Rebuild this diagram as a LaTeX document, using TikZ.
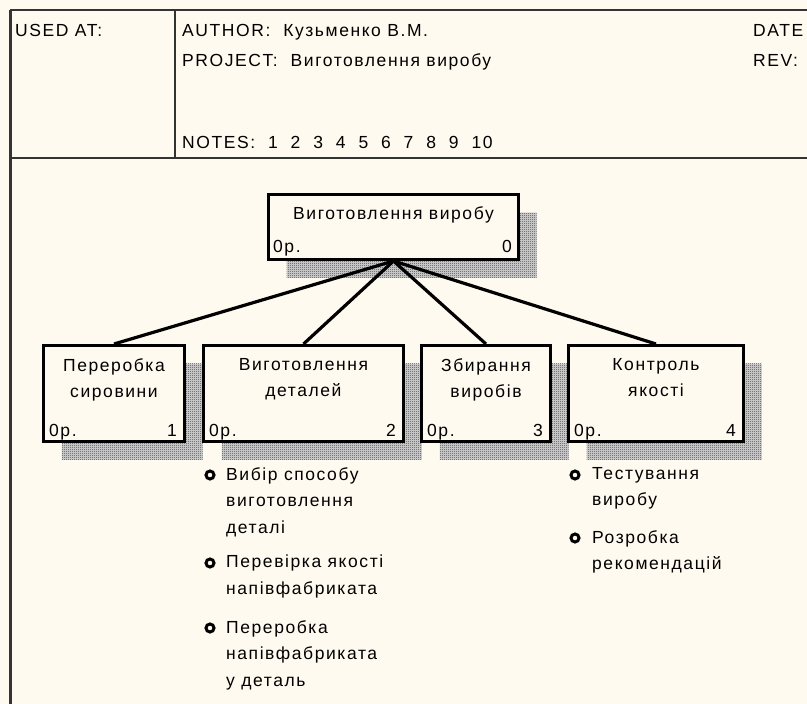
\documentclass[tikz,border=0pt]{standalone}
\usepackage{fontspec}
\setmainfont{Liberation Sans}
\usetikzlibrary{patterns,shadows,positioning}
\definecolor{paper}{RGB}{255,250,239}
\pgfdeclarepatternformonly{checker}{\pgfqpoint{0pt}{0pt}}{\pgfqpoint{2pt}{2pt}}{\pgfqpoint{2pt}{2pt}}{%
  \pgfpathrectangle{\pgfqpoint{0pt}{0pt}}{\pgfqpoint{1pt}{1pt}}%
  \pgfpathrectangle{\pgfqpoint{1pt}{1pt}}{\pgfqpoint{1pt}{1pt}}%
  \pgfusepath{fill}}
\begin{document}
\begin{tikzpicture}[x=1pt,y=-1pt,
  txt/.style={font=\fontsize{17.5}{26.5}\selectfont\addfontfeatures{LetterSpace=9}, inner sep=0pt},
  actbox/.style={draw=black, line width=3pt, fill=paper, anchor=north west, inner sep=0pt,
    general shadow={shadow xshift=18pt, shadow yshift=-18pt, fill=black!15,
      postaction={pattern=checker, pattern color=black!75}}},
  link/.style={line width=3.2pt},
  ring/.style={circle, draw=black, line width=3pt, minimum size=8pt, inner sep=0pt},
  frameline/.style={draw=black!80, line width=2pt}
]

\fill[paper] (0,0) rectangle (807,704);
\useasboundingbox (0,0) rectangle (807,704);
\clip (0,0) rectangle (807,704);

% header
\draw[frameline] (10,10) -- (820,10);
\draw[frameline, line width=3pt] (10,10) -- (10,720);
\draw[frameline] (10,158) -- (820,158);
\draw[frameline] (175,10) -- (175,158);

\node[txt, anchor=base west] (usedat) at (15,36) {USED AT:};
\node[txt, anchor=base west] (author) at (182,36) {AUTHOR:\ \ Кузьменко В.М.};
\node[txt, anchor=base west] (project) at (182,66) {PROJECT:\ \ Виготовлення виробу};
\node[txt, anchor=base west] (notes) at (182,148) {NOTES:\ \ 1\ \ 2\ \ 3\ \ 4\ \ 5\ \ 6\ \ 7\ \ 8\ \ 9\ \ 10};
\node[txt, anchor=base west] (date) at (753,36) {DATE};
\node[txt, anchor=base west] (rev) at (753,66) {REV:};

% boxes
\node[actbox, minimum width=250pt, minimum height=65pt] (a0) at (267,193) {};
\node[actbox, minimum width=141pt, minimum height=96pt] (a1) at (42,344) {};
\node[actbox, minimum width=200pt, minimum height=96pt] (a2) at (202,344) {};
\node[actbox, minimum width=129pt, minimum height=96pt] (a3) at (420,344) {};
\node[actbox, minimum width=175pt, minimum height=96pt] (a4) at (567,344) {};

\node[txt, anchor=north] (t0) at ([yshift=-13pt]a0.north) {Виготовлення виробу};
\node[txt, anchor=base west] (p0) at ([shift={(6pt,9pt)}]a0.south west) {0р.};
\node[txt, anchor=base east] (n0) at ([shift={(-8pt,9pt)}]a0.south east) {0};

\node[txt, anchor=north, align=center] (t1) at ([yshift=-14pt]a1.north) {Переробка\\сировини};
\node[txt, anchor=base west] (p1) at ([shift={(7pt,7pt)}]a1.south west) {0р.};
\node[txt, anchor=base east] (n1) at ([shift={(-9pt,7pt)}]a1.south east) {1};

\node[txt, anchor=north, align=center] (t2) at ([yshift=-14pt]a2.north) {Виготовлення\\деталей};
\node[txt, anchor=base west] (p2) at ([shift={(7pt,7pt)}]a2.south west) {0р.};
\node[txt, anchor=base east] (n2) at ([shift={(-9pt,7pt)}]a2.south east) {2};

\node[txt, anchor=north, align=center] (t3) at ([yshift=-14pt]a3.north) {Збирання\\виробів};
\node[txt, anchor=base west] (p3) at ([shift={(7pt,7pt)}]a3.south west) {0р.};
\node[txt, anchor=base east] (n3) at ([shift={(-9pt,7pt)}]a3.south east) {3};

\node[txt, anchor=north, align=center] (t4) at ([yshift=-14pt]a4.north) {Контроль\\якості};
\node[txt, anchor=base west] (p4) at ([shift={(7pt,7pt)}]a4.south west) {0р.};
\node[txt, anchor=base east] (n4) at ([shift={(-9pt,7pt)}]a4.south east) {4};

% tree
\draw[link] (a0.south) -- (a1.north);
\draw[link] (a0.south) -- (a2.north);
\draw[link] (a0.south) -- (a3.north);
\draw[link] (a0.south) -- (a4.north);

% notes under boxes
\node[ring] (b1) at (210,475) {};
\node[txt, anchor=north west, align=left] (l1) at (226,467) {Вибір способу\\виготовлення\\деталі};
\node[ring] (b2) at (210,563) {};
\node[txt, anchor=north west, align=left] (l2) at (226,555) {Перевірка якості\\напівфабриката};
\node[ring] (b3) at (210,628) {};
\node[txt, anchor=north west, align=left] (l3) at (226,620) {Переробка\\напівфабриката\\у деталь};

\node[ring] (b4) at (575,475) {};
\node[txt, anchor=north west, align=left] (l4) at (592,467) {Тестування\\виробу};
\node[ring] (b5) at (575,538) {};
\node[txt, anchor=north west, align=left] (l5) at (592,530) {Розробка\\рекомендацій};

\end{tikzpicture}
\end{document}
